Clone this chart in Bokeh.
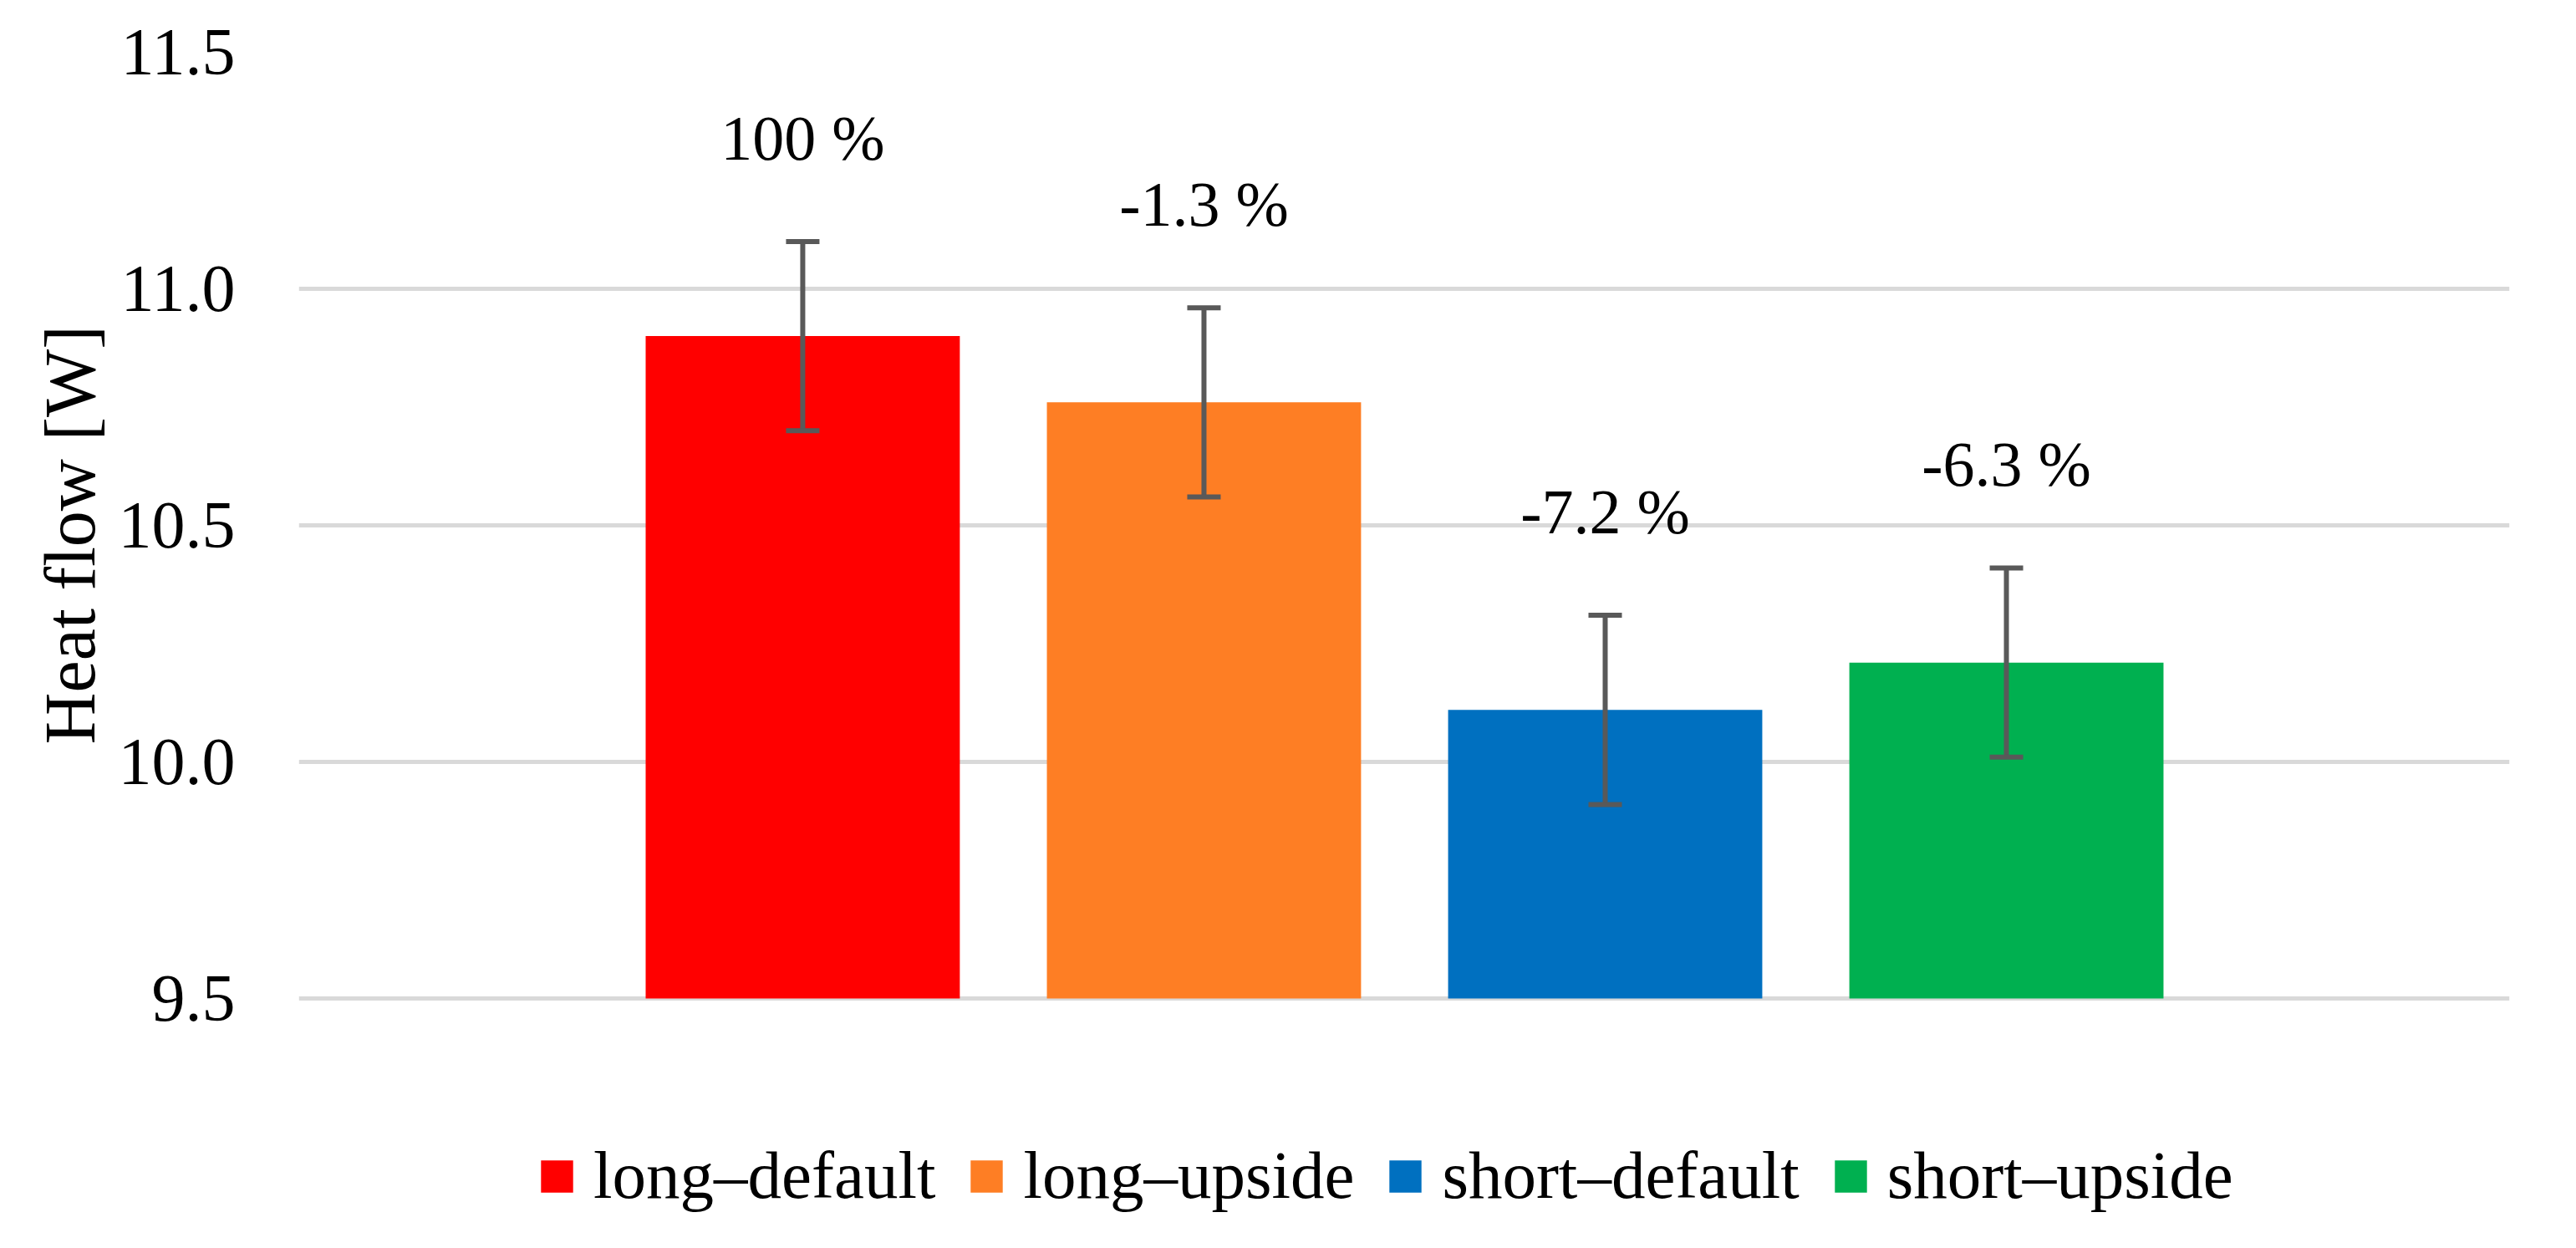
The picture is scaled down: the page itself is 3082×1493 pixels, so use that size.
from bokeh.plotting import figure
from bokeh.models import (ColumnDataSource, Range1d, FixedTicker, NumeralTickFormatter,
                          Whisker, TeeHead, Legend, LegendItem, LabelSet, Title)
from bokeh.core.properties import value
from bokeh.embed import file_html
from bokeh.resources import INLINE

# ---- data ----
series = ["long\u2013default", "long\u2013upside", "short\u2013default", "short\u2013upside"]
heat_flow = [10.90, 10.76, 10.11, 10.21]
error = [0.20, 0.20, 0.20, 0.20]
change_labels = ["100 %", "-1.3 %", "-7.2 %", "-6.3 %"]
colors = ["#FF0000", "#FE7E24", "#0070C0", "#00B050"]
y_ticks = [9.5, 10.0, 10.5, 11.0, 11.5]
y_base, y_max = 9.5, 11.5
y_view_min = 9.0   # extra room under the axis for the legend
y_title = "Heat flow [W]"

FONT = "Liberation Serif"

xs = list(range(len(series)))
src = ColumnDataSource(dict(
    x=xs, top=heat_flow, color=colors, name=series,
    upper=[v + e for v, e in zip(heat_flow, error)],
    lower=[v - e for v, e in zip(heat_flow, error)],
    label=change_labels,
))

p = figure(frame_width=2645, frame_height=1415, output_backend="svg", toolbar_location=None,
           x_range=Range1d(-1.256, 4.254), y_range=Range1d(y_view_min, y_max),
           x_axis_location=None,
           min_border_left=357, min_border_right=64, min_border_top=62, min_border_bottom=0)
p.background_fill_color = "white"
p.border_fill_color = "white"
p.outline_line_color = None

bars = p.vbar(x="x", top="top", bottom=y_base, width=0.783, color="color",
              line_color=None, source=src)

whisk = Whisker(base="x", upper="upper", lower="lower", source=src, level="annotation",
                line_color="#595959", line_width=6,
                upper_head=TeeHead(size=40, line_color="#595959", line_width=6),
                lower_head=TeeHead(size=40, line_color="#595959", line_width=6))
p.add_layout(whisk)

labels = LabelSet(x="x", y="upper", text="label", source=src, y_offset=124,
                  text_align="center", text_baseline="middle",
                  text_font=value(FONT), text_font_size="76px", text_color="black")
p.add_layout(labels)

# axes
p.xgrid.grid_line_color = None
p.ygrid.grid_line_color = "#D9D9D9"
p.ygrid.grid_line_width = 5
p.yaxis.ticker = FixedTicker(ticks=y_ticks)
p.ygrid.ticker = FixedTicker(ticks=y_ticks)
p.yaxis.formatter = NumeralTickFormatter(format="0.0")
p.yaxis.axis_line_color = None
p.yaxis.major_tick_line_color = None
p.yaxis.minor_tick_line_color = None
p.yaxis.major_label_standoff = 70
p.yaxis.major_label_text_font = FONT
p.yaxis.major_label_text_font_size = "80px"
p.yaxis.major_label_text_color = "black"

# y-axis title, centred on the 9.5–11.5 part of the axis
ytitle = Title(text=y_title, align="left", offset=587, standoff=14,
               text_font=FONT, text_font_size="86px", text_font_style="normal",
               text_color="black")
p.add_layout(ytitle, "left")

items = [LegendItem(label=s, renderers=[bars], index=i) for i, s in enumerate(series)]
legend = Legend(items=items, orientation="horizontal", location=(285, 24),
                glyph_width=48, glyph_height=48, label_standoff=20, spacing=37,
                label_text_font=FONT, label_text_font_size="81px",
                label_text_color="black", border_line_color=None,
                background_fill_alpha=0, margin=0, padding=0)
p.add_layout(legend, "center")

open("out.html", "w").write(file_html(p, INLINE))
